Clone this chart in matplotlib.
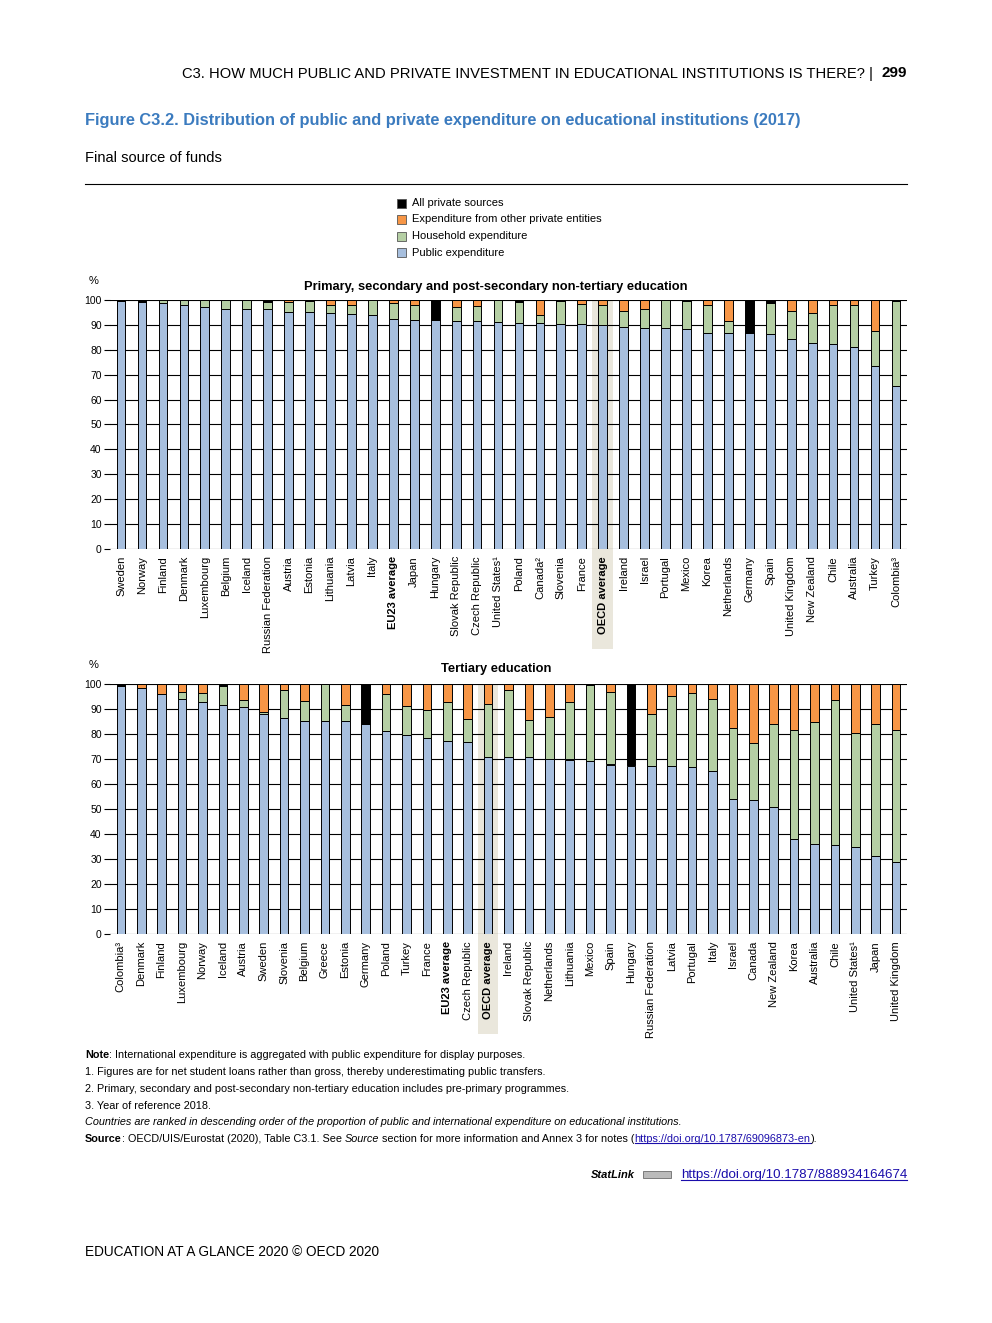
import matplotlib
matplotlib.use("Agg")
import matplotlib.pyplot as plt
import matplotlib.transforms as mtransforms
from matplotlib.patches import Rectangle

# ---- data ----
countries_top = ["Sweden", "Norway", "Finland", "Denmark", "Luxembourg", "Belgium", "Iceland",
                 "Russian Federation", "Austria", "Estonia", "Lithuania", "Latvia", "Italy",
                 "EU23 average", "Japan", "Hungary", "Slovak Republic", "Czech Republic",
                 "United States¹", "Poland", "Canada²", "Slovenia", "France", "OECD average",
                 "Ireland", "Israel", "Portugal", "Mexico", "Korea", "Netherlands", "Germany",
                 "Spain", "United Kingdom", "New Zealand", "Chile", "Australia", "Turkey",
                 "Colombia³"]
public_top = [99.6, 99.2, 98.9, 97.9, 97.3, 96.5, 96.5, 96.5, 95.2, 95.2, 94.9, 94.5, 94.1,
              92.5, 92.0, 92.0, 91.7, 91.7, 91.2, 90.9, 90.9, 90.5, 90.5, 90.1, 89.3, 88.9,
              88.9, 88.5, 86.9, 86.9, 86.9, 86.5, 84.5, 82.9, 82.5, 81.3, 73.3, 65.3]
household_top = [0.0, 0.0, 1.1, 2.1, 2.7, 3.5, 3.5, 2.7, 4.1, 4.3, 3.2, 3.4, 5.9, 6.2, 5.9,
                 0.0, 5.6, 5.9, 8.8, 8.4, 3.2, 9.0, 8.0, 8.0, 6.4, 7.6, 11.1, 11.2, 11.0, 4.7,
                 0.0, 12.4, 11.2, 11.8, 15.6, 16.7, 14.2, 34.2]
other_top = [0, 0, 0, 0, 0, 0, 0, 0, 0.7, 0.5, 1.9, 2.1, 0, 1.3, 2.1, 0, 2.7, 2.4, 0, 0, 5.9,
             0, 1.5, 1.9, 4.3, 3.5, 0, 0, 2.1, 8.4, 0, 0, 4.3, 5.3, 1.9, 2.0, 12.5, 0]
allpriv_top = [0.4, 0.8, 0, 0, 0, 0, 0, 0.8, 0, 0, 0, 0, 0, 0, 0, 8.0, 0, 0, 0, 0.7, 0, 0.5,
               0, 0, 0, 0, 0, 0.3, 0, 0, 13.1, 1.1, 0, 0, 0, 0, 0, 0.5]

countries_bot = ["Colombia³", "Denmark", "Finland", "Luxembourg", "Norway", "Iceland", "Austria",
                 "Sweden", "Slovenia", "Belgium", "Greece", "Estonia", "Germany", "Poland",
                 "Turkey", "France", "EU23 average", "Czech Republic", "OECD average", "Ireland",
                 "Slovak Republic", "Netherlands", "Lithuania", "Mexico", "Spain", "Hungary",
                 "Russian Federation", "Latvia", "Portugal", "Italy", "Israel", "Canada",
                 "New Zealand", "Korea", "Australia", "Chile", "United States¹", "Japan",
                 "United Kingdom"]
public_bot = [99.2, 98.5, 96.0, 94.0, 92.8, 91.6, 90.8, 88.0, 86.4, 85.2, 85.2, 85.2, 84.1,
              81.1, 79.6, 78.4, 77.2, 76.8, 70.9, 70.8, 70.8, 70.1, 69.8, 69.2, 67.8, 67.4,
              67.3, 67.2, 66.9, 65.1, 54.0, 53.5, 50.8, 38.0, 36.0, 35.6, 34.8, 31.2, 28.9]
household_bot = [0, 0, 0, 2.8, 3.6, 7.5, 2.8, 0.8, 11.2, 7.9, 14.8, 6.5, 0, 14.9, 11.5, 11.1,
                 15.5, 9.2, 21.1, 26.9, 14.7, 16.8, 22.8, 30.3, 28.8, 0, 20.8, 28.1, 29.3, 29.1,
                 28.3, 22.7, 33.1, 43.5, 48.7, 58.0, 45.5, 52.7, 52.6]
other_bot = [0, 1.5, 4.0, 3.2, 3.6, 0, 6.4, 11.2, 2.4, 6.9, 0, 8.3, 0, 4.0, 8.9, 10.5, 7.3,
             14.0, 8.1, 2.2, 14.3, 13.1, 7.4, 0, 3.4, 0, 11.9, 4.6, 3.8, 5.8, 17.7, 23.8, 16.1,
             18.5, 15.3, 6.4, 19.7, 16.1, 18.5]
allpriv_bot = [0.8, 0, 0, 0, 0, 0.9, 0, 0, 0, 0, 0, 0, 15.9, 0, 0, 0, 0, 0, 0, 0, 0, 0, 0, 0.5,
               0, 32.6, 0, 0, 0, 0, 0, 0, 0, 0, 0, 0, 0, 0, 0]

legend_labels = ["All private sources", "Expenditure from other private entities",
                 "Household expenditure", "Public expenditure"]

# ---- styling ----
BLUE = "#a7bfde"
GREEN = "#b5cfa4"
ORANGE = "#f79646"
BLACK = "#000000"
BAND = "#eae7dc"
TITLE_BLUE = "#3b7bbf"
NARROW = ["Liberation Sans Narrow", "Liberation Sans", "DejaVu Sans"]
ARIAL = ["Liberation Sans", "DejaVu Sans"]

plt.rcParams["font.family"] = NARROW

fig = plt.figure(figsize=(9.92, 13.23), dpi=100)
W, H = 992, 1323
bg = fig.add_axes([0, 0, 1, 1])
bg.set_xlim(0, W)
bg.set_ylim(H, 0)
bg.axis("off")


def fig_axes(left, top, right, bottom):
    # pixel box -> figure fraction
    return fig.add_axes([left / W, 1 - bottom / H, (right - left) / W, (bottom - top) / H])


def draw_panel(ax, names, pub, hh, oth, allp):
    x = list(range(len(names)))
    wid = 0.42
    kw = dict(width=wid, edgecolor="black", linewidth=0.7, zorder=3)
    b1 = [p + h for p, h in zip(pub, hh)]
    b2 = [a + o for a, o in zip(b1, oth)]
    ax.bar(x, pub, color=BLUE, **kw)
    ax.bar(x, hh, bottom=pub, color=GREEN, **kw)
    ax.bar(x, oth, bottom=b1, color=ORANGE, **kw)
    ax.bar(x, allp, bottom=b2, color=BLACK, **kw)
    ax.set_xlim(-0.53, len(names) - 0.47)
    ax.set_ylim(0, 100)
    ax.set_yticks(range(0, 101, 10))
    ax.yaxis.grid(True, color="black", linewidth=0.8)
    ax.set_axisbelow(True)
    for s in ax.spines.values():
        s.set_visible(False)
    ax.tick_params(axis="y", length=4, width=0.8, pad=2, labelsize=7.5)
    for lab in ax.get_yticklabels():
        lab.set_family(ARIAL)
    ax.set_xticks(x)
    ax.set_xticklabels(names, rotation=90, fontsize=8)
    ax.tick_params(axis="x", length=0, pad=5)
    for lab, n in zip(ax.get_xticklabels(), names):
        if "average" in n:
            lab.set_fontweight("bold")
    # highlight OECD average column, running down through the label area
    i = names.index("OECD average")
    trans = mtransforms.blended_transform_factory(ax.transData, ax.transAxes)
    ax.add_patch(Rectangle((i - 0.5, -0.4), 1.0, 1.4, transform=trans, color=BAND,
                           clip_on=False, zorder=0, linewidth=0))


ax1 = fig_axes(110, 300, 907, 549)
draw_panel(ax1, countries_top, public_top, household_top, other_top, allpriv_top)
ax2 = fig_axes(110, 684, 907, 934)
draw_panel(ax2, countries_bot, public_bot, household_bot, other_bot, allpriv_bot)

# panel titles and % labels
bg.text(496, 287, "Primary, secondary and post-secondary non-tertiary education",
        ha="center", va="center", fontsize=9.3, fontweight="bold")
bg.text(496, 669, "Tertiary education", ha="center", va="center", fontsize=9.3,
        fontweight="bold")
bg.text(89, 281, "%", ha="left", va="center", fontsize=8, family=ARIAL)
bg.text(89, 665, "%", ha="left", va="center", fontsize=8, family=ARIAL)

# legend
leg_colors = [BLACK, ORANGE, GREEN, BLUE]
for k, (lab, c) in enumerate(zip(legend_labels, leg_colors)):
    yy = 203 + k * 16.5
    bg.add_patch(Rectangle((397, yy - 4.5), 9, 9, facecolor=c, edgecolor="#555555",
                           linewidth=0.6))
    bg.text(412, yy, lab, ha="left", va="center", fontsize=8)

# header
bg.text(907, 73, "299", ha="right", va="center", fontsize=11, fontweight="bold",
        family=ARIAL)
bg.text(873, 74, "C3. HOW MUCH PUBLIC AND PRIVATE INVESTMENT IN EDUCATIONAL INSTITUTIONS IS THERE? |",
        ha="right", va="center", fontsize=10.6, family=ARIAL)
bg.text(85, 121, "Figure C3.2. Distribution of public and private expenditure on "
        "educational institutions (2017)", ha="left", va="center", fontsize=11.8,
        fontweight="bold", color=TITLE_BLUE)
bg.text(85, 158, "Final source of funds", ha="left", va="center", fontsize=10.5)
bg.plot([85, 907], [184, 184], color="black", linewidth=0.8)


def chain(x, y, parts, size=7.85):
    prev = None
    out = []
    for txt, style in parts:
        if prev is None:
            t = bg.text(x, y, txt, ha="left", va="center", fontsize=size, **style)
        else:
            t = bg.annotate(txt, xy=(1, 0), xycoords=prev, ha="left", va="bottom",
                            fontsize=size, **style)
        out.append(t)
        prev = t
    return out


B = {"fontweight": "bold"}
N = {}
I = {"style": "italic"}
LINK = {"color": "#1a0dab"}

chain(85, 1055, [("Note", B), (": International expenditure is aggregated with public "
                               "expenditure for display purposes.", N)])
chain(85, 1072, [("1. Figures are for net student loans rather than gross, thereby "
                  "underestimating public transfers.", N)])
chain(85, 1089, [("2. Primary, secondary and post-secondary non-tertiary education includes "
                  "pre-primary programmes.", N)])
chain(85, 1106, [("3. Year of reference 2018.", N)])
chain(85, 1122, [("Countries are ranked in descending order of the proportion of public and "
                  "international expenditure on educational institutions.", I)])
src = chain(85, 1139, [("Source", B), (": OECD/UIS/Eurostat (2020), Table C3.1. See ", N),
                       ("Source", I), (" section for more information and Annex 3 for notes (", N),
                       ("https://doi.org/10.1787/69096873-en", LINK), (").", N)])

bg.text(635, 1175, "StatLink", ha="right", va="center", fontsize=8, fontweight="bold",
        style="italic", family=ARIAL)
bg.add_patch(Rectangle((643, 1171), 28, 7, facecolor="#bbbbbb", edgecolor="#555555",
                       linewidth=0.5))
stat = bg.text(907, 1175, "https://doi.org/10.1787/888934164674", ha="right", va="center",
               fontsize=9.6, color="#1a0dab")

bg.text(85, 1252, "EDUCATION AT A GLANCE 2020 © OECD 2020", ha="left", va="center",
        fontsize=9.8, family=ARIAL)

# underline links
fig.canvas.draw()
inv = bg.transData.inverted()
for t in [src[4], stat]:
    bb = t.get_window_extent()
    (x0, y0), (x1, y1) = inv.transform([[bb.x0, bb.y0], [bb.x1, bb.y1]])
    bg.plot([x0, x1], [y0 - 1.5, y0 - 1.5], color=t.get_color(), linewidth=0.8)

fig.savefig("out.png", dpi=100, facecolor="white")
